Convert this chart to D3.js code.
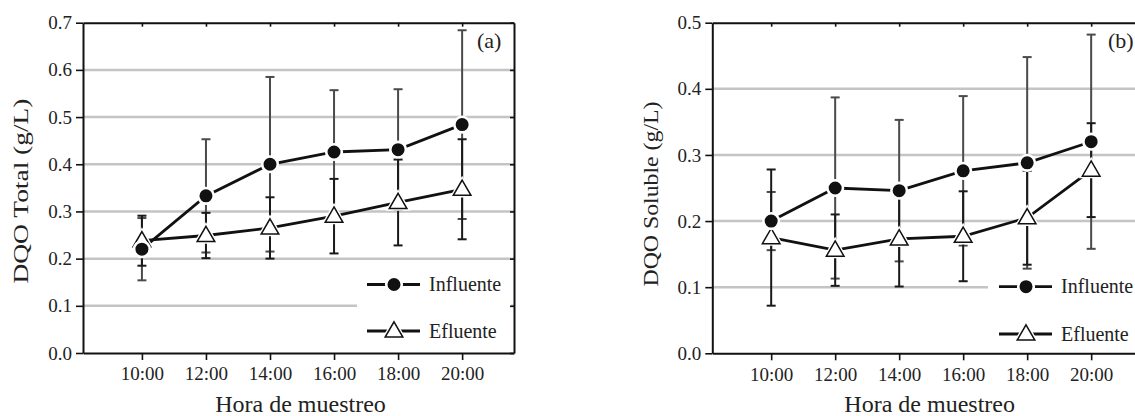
<!DOCTYPE html>
<html>
<head>
<meta charset="utf-8">
<script src="https://cdn.jsdelivr.net/npm/d3@7"></script>
<style>
  body { margin: 0; background: #fff; }
</style>
</head>
<body>
<svg id="chart" width="1135" height="416"></svg>
<script>
// sampling hours
const hours = [10, 12, 14, 16, 18, 20];
const hourLabels = ["10:00", "12:00", "14:00", "16:00", "18:00", "20:00"];

// (a) DQO Total
const totalInfluente = [0.22, 0.333, 0.400, 0.426, 0.431, 0.484];
const totalInfluenteErr = [0.066, 0.120, 0.185, 0.131, 0.128, 0.200];
const totalEfluente = [0.238, 0.249, 0.265, 0.290, 0.319, 0.347];
const totalEfluenteErr = [0.053, 0.048, 0.065, 0.079, 0.091, 0.106];

// (b) DQO Soluble
const solInfluente = [0.200, 0.250, 0.246, 0.276, 0.288, 0.320];
const solInfluenteErr = [0.044, 0.137, 0.107, 0.113, 0.160, 0.162];
const solEfluente = [0.175, 0.156, 0.173, 0.177, 0.205, 0.277];
const solEfluenteErr = [0.103, 0.054, 0.072, 0.068, 0.071, 0.071];

const serif = '"Liberation Serif", "Times New Roman", serif';
const svg = d3.select("#chart");

function drawPanel(opt) {
    const x = d3.scaleLinear().domain([8.16, 21.62]).range([opt.left, opt.right]);
    const y = d3.scaleLinear().domain([0, opt.ymax]).range([opt.bottom, opt.top]);
    const g = svg.append("g");
    const yTicks = d3.range(0, opt.ymax + 0.001, 0.1);

    // gridlines
    g.selectAll(".grid")
        .data(yTicks.filter(d => d > 0.05 && d < opt.ymax - 0.05))
        .enter().append("line")
        .attr("x1", opt.left).attr("x2", opt.right)
        .attr("y1", d => y(d)).attr("y2", d => y(d))
        .attr("stroke", "#c4c4c4").attr("stroke-width", 2.5);

    // white box behind legend
    g.append("rect")
        .attr("x", opt.legendBox).attr("y", y(opt.legendBoxTop))
        .attr("width", opt.right - opt.legendBox - 3)
        .attr("height", y(0) - y(opt.legendBoxTop) - 3)
        .attr("fill", "#fff");

    // axes
    const fmt = d3.format(".1f");
    const left = g.append("g").attr("transform", `translate(${opt.left},0)`)
        .call(d3.axisLeft(y).tickValues(yTicks).tickFormat(fmt).tickSize(7).tickSizeOuter(0).tickPadding(4));
    const bottom = g.append("g").attr("transform", `translate(0,${opt.bottom})`)
        .call(d3.axisBottom(x).tickValues(hours).tickFormat((d, i) => hourLabels[i]).tickSize(7).tickSizeOuter(0).tickPadding(7));
    const top = g.append("g").attr("transform", `translate(0,${opt.top})`)
        .call(d3.axisBottom(x).tickValues(hours).tickFormat("").tickSize(4).tickSizeOuter(0));
    const right = g.append("g").attr("transform", `translate(${opt.right},0)`)
        .call(d3.axisLeft(y).tickValues(yTicks).tickFormat("").tickSize(4).tickSizeOuter(0));
    [left, bottom, top, right].forEach(a => {
        a.attr("font-family", serif);
        a.select(".domain").attr("stroke", "#111").attr("stroke-width", 2);
        a.selectAll(".tick line").attr("stroke", "#111").attr("stroke-width", 1.6);
        a.selectAll("text").style("font-size", "19px").attr("fill", "#222");
    });

    // axis titles
    g.append("text")
        .attr("x", (opt.left + opt.right) / 2 + 2).attr("y", 412)
        .attr("text-anchor", "middle").style("font-size", "24px")
        .text("Hora de muestreo");
    g.append("text")
        .attr("transform", `translate(${opt.ylabelX},${opt.ylabelY}) rotate(-90)`)
        .attr("text-anchor", "middle").style("font-size", "21.5px")
        .attr("textLength", 185).attr("lengthAdjust", "spacingAndGlyphs")
        .text(opt.ylabel);
    g.append("text")
        .attr("x", opt.tagX).attr("y", 48)
        .style("font-size", "22px")
        .text(opt.tag);

    // error bars
    function errorBars(vals, errs, color) {
        const eb = g.append("g").attr("stroke", color).attr("stroke-width", 2);
        hours.forEach((h, i) => {
            const cx = x(h), y1 = y(vals[i] + errs[i]), y0 = y(vals[i] - errs[i]);
            eb.append("line").attr("x1", cx).attr("x2", cx).attr("y1", y1).attr("y2", y0);
            eb.append("line").attr("x1", cx - 4.5).attr("x2", cx + 4.5).attr("y1", y1).attr("y2", y1);
            eb.append("line").attr("x1", cx - 4.5).attr("x2", cx + 4.5).attr("y1", y0).attr("y2", y0);
        });
    }
    errorBars(opt.infl, opt.inflErr, "#4a4a4a");
    errorBars(opt.efl, opt.eflErr, "#1a1a1a");

    const line = d3.line().x((d, i) => x(hours[i])).y(d => y(d));
    [opt.efl, opt.infl].forEach(s => {
        g.append("path").datum(s).attr("d", line)
            .attr("fill", "none").attr("stroke", "#111").attr("stroke-width", 2.8);
    });

    const tri = d3.symbol().type(d3.symbolTriangle).size(135);
    const triHalo = d3.symbol().type(d3.symbolTriangle).size(270);
    function triangle(sel, cx, cy) {
        sel.append("path").attr("d", triHalo()).attr("transform", `translate(${cx},${cy + 1})`).attr("fill", "#fff");
        sel.append("path").attr("d", tri()).attr("transform", `translate(${cx},${cy + 1})`)
            .attr("fill", "#fff").attr("stroke", "#111").attr("stroke-width", 1.5);
    }
    function circle(sel, cx, cy) {
        sel.append("circle").attr("cx", cx).attr("cy", cy).attr("r", 7.8)
            .attr("fill", "#111").attr("stroke", "#fff").attr("stroke-width", 2.6);
    }
    opt.efl.forEach((v, i) => triangle(g, x(hours[i]), y(v)));
    opt.infl.forEach((v, i) => circle(g, x(hours[i]), y(v)));

    // legend
    const lg = g.append("g");
    [["Influente", circle, opt.legY[0]], ["Efluente", triangle, opt.legY[1]]].forEach(([name, mark, ly]) => {
        lg.append("line").attr("x1", opt.legX).attr("x2", opt.legX + 53)
            .attr("y1", ly).attr("y2", ly).attr("stroke", "#111").attr("stroke-width", 2.8);
        mark(lg, opt.legX + 27, ly);
        lg.append("text").attr("x", opt.legX + 62).attr("y", ly + 6.5)
            .style("font-size", "20px").text(name);
    });

    g.selectAll("text").style("font-family", serif).attr("fill", "#222");
}

drawPanel({
    left: 83, right: 514, top: 22.7, bottom: 353, ymax: 0.7,
    infl: totalInfluente, inflErr: totalInfluenteErr,
    efl: totalEfluente, eflErr: totalEfluenteErr,
    ylabel: "DQO Total (g/L)", ylabelX: 28, ylabelY: 191, tag: "(a)", tagX: 477,
    legendBox: 357, legendBoxTop: 0.17, legX: 367, legY: [284.5, 331]
});

drawPanel({
    left: 712.3, right: 1143, top: 22.7, bottom: 353.3, ymax: 0.5,
    infl: solInfluente, inflErr: solInfluenteErr,
    efl: solEfluente, eflErr: solEfluenteErr,
    ylabel: "DQO Soluble (g/L)", ylabelX: 658, ylabelY: 194, tag: "(b)", tagX: 1108,
    legendBox: 988, legendBoxTop: 0.12, legX: 999, legY: [286.7, 334]
});
</script>
</body>
</html>
